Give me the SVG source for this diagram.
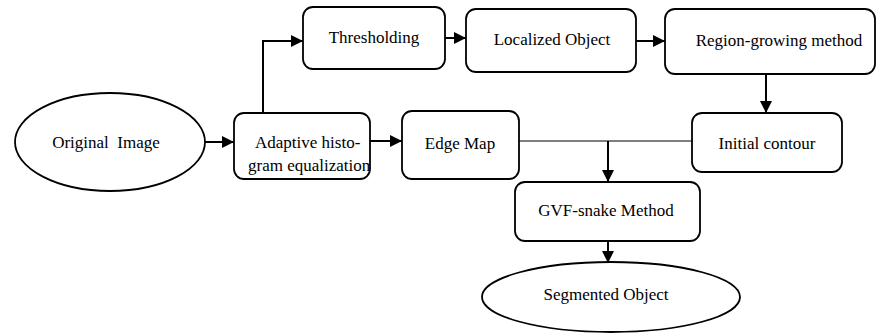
<svg xmlns="http://www.w3.org/2000/svg" width="877" height="334" viewBox="0 0 877 334">
<defs>
<marker id="arr" markerUnits="userSpaceOnUse" markerWidth="12" markerHeight="12" viewBox="0 0 12 12" refX="12" refY="6" orient="auto">
<path d="M0,0 L12,6 L0,12 z" fill="#000"/>
</marker>
</defs>
<style>
.box{fill:#fff;stroke:#000;stroke-width:1.8}
text{font-family:'Liberation Serif','DejaVu Serif',Times,serif;font-size:17px;fill:#000}
.t{text-anchor:middle;white-space:pre}
.c{fill:none;stroke:#000;stroke-width:2}
.thin{fill:none;stroke:#000;stroke-width:1.2}
</style>
<rect width="877" height="334" fill="#fff"/>
<g id="connectors">
<line class="c" x1="205" y1="142" x2="234" y2="142" marker-end="url(#arr)"/>
<polyline class="c" points="263,113 263,41 303,41" marker-end="url(#arr)"/>
<line class="c" x1="445" y1="38" x2="466" y2="38" marker-end="url(#arr)"/>
<line class="c" x1="636" y1="41" x2="665" y2="41" marker-end="url(#arr)"/>
<line class="c" x1="766" y1="74" x2="766" y2="113" marker-end="url(#arr)"/>
<line class="c" x1="370" y1="141" x2="402" y2="141" marker-end="url(#arr)"/>
<line class="thin" x1="519" y1="141" x2="692" y2="141"/>
<line class="c" x1="608" y1="141" x2="608" y2="182" marker-end="url(#arr)"/>
<line class="c" x1="608" y1="241" x2="608" y2="263" marker-end="url(#arr)"/>
</g>
<g id="original">
<ellipse class="box" cx="110" cy="142" rx="95" ry="49"/>
<text class="t" x="106" y="148" font-family="Liberation Serif, serif">Original  Image</text>
</g>
<g id="adaptive">
<rect class="box" x="234" y="113" width="136" height="66" rx="10"/>
<text x="255" y="148">Adaptive histo-</text>
<text x="248" y="171">gram equalization</text>
</g>
<g id="thresholding">
<rect class="box" x="303" y="7" width="142" height="62" rx="10"/>
<text class="t" x="374" y="43">Thresholding</text>
</g>
<g id="localized">
<rect class="box" x="466" y="9" width="170" height="63" rx="10"/>
<text class="t" x="552" y="45">Localized Object</text>
</g>
<g id="region">
<rect class="box" x="665" y="9" width="210" height="65" rx="10"/>
<text class="t" x="779" y="46">Region-growing method</text>
</g>
<g id="initial">
<rect class="box" x="692" y="113" width="150" height="59" rx="10"/>
<text class="t" x="767" y="149">Initial contour</text>
</g>
<g id="edgemap">
<rect class="box" x="402" y="111" width="117" height="68" rx="10"/>
<text class="t" x="460" y="149">Edge Map</text>
</g>
<g id="gvf">
<rect class="box" x="515" y="182" width="185" height="59" rx="10"/>
<text class="t" x="606" y="216">GVF-snake Method</text>
</g>
<g id="segmented">
<ellipse class="box" cx="611" cy="297" rx="129" ry="35"/>
<text class="t" x="606" y="300">Segmented Object</text>
</g>
</svg>
